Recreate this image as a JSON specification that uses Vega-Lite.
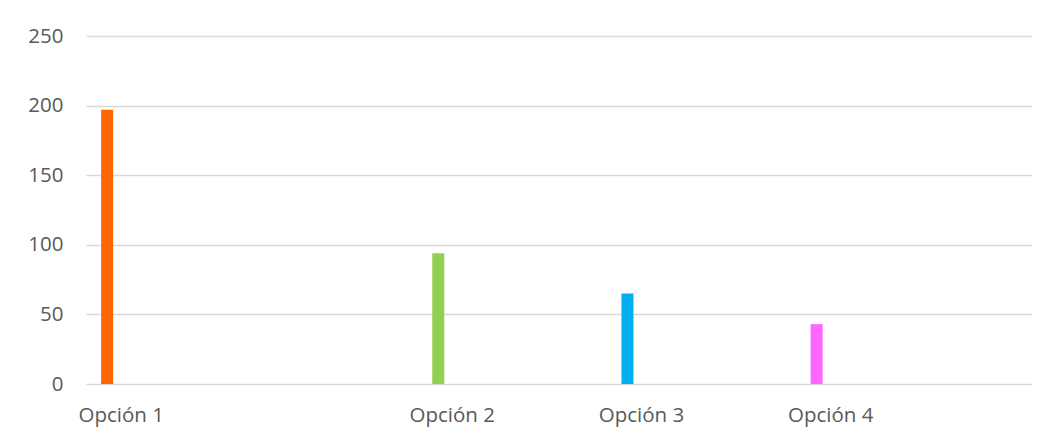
{
  "$schema": "https://vega.github.io/schema/vega-lite/v6.json",
  "width": 946,
  "height": 348,
  "autosize": "none",
  "padding": {"left": 86, "top": 36, "right": 28, "bottom": 56},
  "background": "white",
  "config": {
    "view": {"stroke": null},
    "font": "Open Sans"
  },
  "data": {
    "values": [
      {"opcion": "Opción 1", "valor": 197},
      {"opcion": "Opción 2", "valor": 94},
      {"opcion": "Opción 3", "valor": 65},
      {"opcion": "Opción 4", "valor": 43}
    ]
  },
  "mark": {"type": "bar", "width": 12, "xOffset": -2.5},
  "encoding": {
    "x": {
      "field": "opcion",
      "type": "nominal",
      "scale": {
        "domain": ["Opción 1", "s1", "s2", "s3", "s4", "s5", "s6", "Opción 2", "s8", "s9", "s10", "Opción 3", "s12", "s13", "s14", "Opción 4", "s16", "s17", "s18", "s19"],
        "paddingInner": 0,
        "paddingOuter": 0
      },
      "axis": {
        "title": null,
        "domain": false,
        "ticks": false,
        "labelAngle": 0,
        "labelExpr": "indexof(datum.label, 'Opci') == 0 ? datum.label : ''",
        "labelOverlap": false,
        "labelFlush": false,
        "labelOffset": 11.5,
        "labelPadding": 21,
        "labelFontSize": 20.5,
        "labelColor": "#595959",
        "labelFont": "Open Sans"
      }
    },
    "y": {
      "field": "valor",
      "type": "quantitative",
      "scale": {"domain": [0, 250], "nice": false},
      "axis": {
        "title": null,
        "values": [0, 50, 100, 150, 200, 250],
        "domain": false,
        "ticks": false,
        "grid": true,
        "gridColor": "#D9D9D9",
        "gridWidth": 1.3,
        "labelPadding": 23,
        "labelFontSize": 20.5,
        "labelColor": "#595959",
        "labelFont": "Open Sans"
      }
    },
    "color": {
      "field": "opcion",
      "type": "nominal",
      "scale": {
        "domain": ["Opción 1", "Opción 2", "Opción 3", "Opción 4"],
        "range": ["#FF6600", "#92D050", "#00B0F0", "#FF66FF"]
      },
      "legend": null
    }
  }
}
